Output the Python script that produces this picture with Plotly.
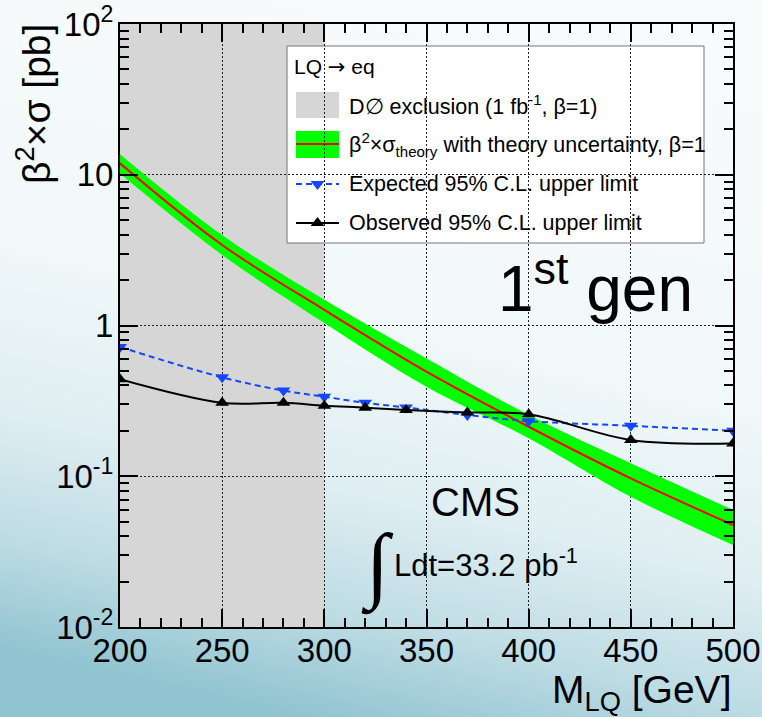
import base64
import plotly.graph_objects as go

# ---------------- data ----------------
mass_limits = [200, 250, 280, 300, 320, 340, 370, 400, 450, 500]
observed = [0.44, 0.307, 0.307, 0.294, 0.285, 0.275, 0.265, 0.258, 0.174, 0.165]
expected = [0.72, 0.453, 0.37, 0.337, 0.307, 0.286, 0.255, 0.232, 0.216, 0.20]

mass_theory = [200, 250, 300, 350, 400, 450, 500]
theory = [11.9, 3.42, 1.27, 0.494, 0.213, 0.0968, 0.0475]
theory_hi = [13.7, 3.98, 1.48, 0.605, 0.255, 0.122, 0.0597]
theory_lo = [10.2, 2.94, 1.04, 0.393, 0.179, 0.0731, 0.035]

d0_exclusion = [200, 300]
x_ticks = [200, 250, 300, 350, 400, 450, 500]
y_ticks = [0.01, 0.1, 1, 10, 100]
y_ticktext = ["10<sup>-2</sup>", "10<sup>-1</sup>", "1", "10", "10<sup>2</sup>"]

legend_header = "LQ <span style='font-family:DejaVu Sans'>\u2192</span> eq"
legend_labels = [
    "D\u2205 exclusion (1 fb<sup>-1</sup>, \u03b2=1)",
    "\u03b2<sup>2</sup>\u00d7\u03c3<sub>theory</sub> with theory uncertainty, \u03b2=1",
    "Expected 95% C.L. upper limit",
    "Observed 95% C.L. upper limit",
]

# ---------------- geometry helpers ----------------
W, H = 762, 717
L, R, T, B = 120, 733, 24, 627


def px(x):
    return (x - L) / (R - L)


def py(y):
    return (B - y) / (B - T)


FONT = "Liberation Sans"
BLUE = "#1446ff"
GREEN = "#00ff00"
RED = "#ff0000"

fig = go.Figure()

# theory band
fig.add_trace(go.Scatter(x=mass_theory, y=theory_lo, mode="lines",
                         line=dict(width=0, shape="spline", color=GREEN),
                         showlegend=False, hoverinfo="skip"))
fig.add_trace(go.Scatter(x=mass_theory, y=theory_hi, mode="lines", fill="tonexty",
                         fillcolor=GREEN, line=dict(width=0, shape="spline", color=GREEN),
                         showlegend=False, hoverinfo="skip"))
fig.add_trace(go.Scatter(x=mass_theory, y=theory, mode="lines",
                         line=dict(width=2, shape="spline", color=RED), showlegend=False))
# expected
fig.add_trace(go.Scatter(x=mass_limits, y=expected, mode="lines+markers",
                         line=dict(width=2, shape="spline", color=BLUE, dash="6px,4px"),
                         marker=dict(symbol="triangle-down", size=12, color=BLUE),
                         showlegend=False))
# observed
fig.add_trace(go.Scatter(x=mass_limits, y=observed, mode="lines+markers",
                         line=dict(width=2, shape="spline", color="black"),
                         marker=dict(symbol="triangle-up", size=12, color="black"),
                         showlegend=False))

# legend marker symbols on an overlay (paper-like) axis pair
row_y = [105, 144, 184, 223]
sym_x0, sym_x1 = 296, 339
sym_xc = (sym_x0 + sym_x1) / 2
fig.add_trace(go.Scatter(x=[px(sym_xc)], y=[py(row_y[2])], mode="markers",
                         marker=dict(symbol="triangle-down", size=12, color=BLUE),
                         xaxis="x2", yaxis="y2", showlegend=False, hoverinfo="skip"))
fig.add_trace(go.Scatter(x=[px(sym_xc)], y=[py(row_y[3])], mode="markers",
                         marker=dict(symbol="triangle-up", size=12, color="black"),
                         xaxis="x2", yaxis="y2", showlegend=False, hoverinfo="skip"))

shapes = []
# D0 exclusion band (below grid)
shapes.append(dict(type="rect", xref="x", yref="paper", x0=d0_exclusion[0], x1=d0_exclusion[1],
                   y0=0, y1=1, fillcolor="#d6d6d6", line=dict(width=0), layer="below"))
# legend box (above grid, below traces)
shapes.append(dict(type="rect", xref="paper", yref="paper", x0=px(287), x1=px(704),
                   y0=py(243), y1=py(46), fillcolor="white", line=dict(color="#777777", width=1),
                   layer="between"))
shapes.append(dict(type="rect", xref="paper", yref="paper", x0=px(sym_x0), x1=px(sym_x1),
                   y0=py(118), y1=py(92), fillcolor="#d6d6d6", line=dict(width=0), layer="between"))
shapes.append(dict(type="rect", xref="paper", yref="paper", x0=px(sym_x0), x1=px(sym_x1),
                   y0=py(158), y1=py(131), fillcolor=GREEN, line=dict(width=0), layer="between"))
shapes.append(dict(type="line", xref="paper", yref="paper", x0=px(sym_x0), x1=px(sym_x1),
                   y0=py(row_y[1]), y1=py(row_y[1]), line=dict(color=RED, width=2), layer="between"))
shapes.append(dict(type="line", xref="paper", yref="paper", x0=px(sym_x0), x1=px(sym_x1),
                   y0=py(row_y[2]), y1=py(row_y[2]), line=dict(color=BLUE, width=2, dash="6px,4px"),
                   layer="between"))
shapes.append(dict(type="line", xref="paper", yref="paper", x0=px(sym_x0), x1=px(sym_x1),
                   y0=py(row_y[3]), y1=py(row_y[3]), line=dict(color="black", width=2), layer="between"))

annotations = []
annotations.append(dict(text=legend_header, x=px(292), y=py(67), xref="paper", yref="paper",
                        xanchor="left", yanchor="middle", showarrow=False,
                        font=dict(family=FONT, size=21, color="black")))
for lab, ry in zip(legend_labels, row_y):
    annotations.append(dict(text=lab, x=px(347), y=py(ry), xref="paper", yref="paper",
                            xanchor="left", yanchor="middle", showarrow=False,
                            font=dict(family=FONT, size=21.5, color="black")))
annotations.append(dict(text="1<sup>st</sup> gen", x=px(496), y=py(284), xref="paper", yref="paper",
                        xanchor="left", yanchor="middle", showarrow=False,
                        font=dict(family=FONT, size=64, color="black")))
annotations.append(dict(text="CMS", x=px(475), y=py(502), xref="paper", yref="paper",
                        xanchor="center", yanchor="middle", showarrow=False,
                        font=dict(family=FONT, size=40, color="black")))
annotations.append(dict(text="\u222b", x=px(377), y=py(566), xref="paper", yref="paper",
                        xanchor="center", yanchor="middle", showarrow=False,
                        font=dict(family="Liberation Serif", size=84, color="black")))
annotations.append(dict(text="Ldt=33.2 pb<sup>-1</sup>", x=px(392), y=py(563), xref="paper", yref="paper",
                        xanchor="left", yanchor="middle", showarrow=False,
                        font=dict(family=FONT, size=31, color="black")))
# axis titles
annotations.append(dict(text="M<sub>LQ</sub> [GeV]", x=1.0, y=py(666), xref="paper", yref="paper",
                        xanchor="right", yanchor="top", showarrow=False,
                        font=dict(family=FONT, size=39, color="black")))
annotations.append(dict(text="\u03b2<sup>2</sup>\u00d7\u03c3 [pb]", x=px(33), y=py(22), xref="paper", yref="paper",
                        xanchor="center", yanchor="top", textangle=-90, showarrow=False,
                        font=dict(family=FONT, size=39, color="black")))

# background gradient (slide)
svg = (
    '<svg xmlns="http://www.w3.org/2000/svg" width="762" height="717" preserveAspectRatio="none">'
    '<defs><linearGradient id="g" x1="0.62" y1="0" x2="0.38" y2="1">'
    '<stop offset="0" stop-color="#f8fbfc"/>'
    '<stop offset="0.45" stop-color="#f1f8f9"/>'
    '<stop offset="0.68" stop-color="#dfeef2"/>'
    '<stop offset="0.85" stop-color="#bedce4"/>'
    '<stop offset="1" stop-color="#8fc3d0"/>'
    '</linearGradient></defs>'
    '<rect width="762" height="717" fill="url(#g)"/></svg>'
)
src = "data:image/svg+xml;base64," + base64.b64encode(svg.encode()).decode()

axis_common = dict(
    showline=True, linecolor="black", linewidth=2, mirror="allticks", automargin=False,
    ticks="inside", tickcolor="black", tickwidth=1.5, ticklen=18,
    showgrid=True, gridcolor="#222222", gridwidth=1, griddash="2px,2px",
    zeroline=False, tickfont=dict(family=FONT, size=33, color="black"),
)

fig.update_layout(
    width=W, height=H,
    margin=dict(l=L, r=W - R, t=T, b=H - B, autoexpand=False),
    paper_bgcolor="white", plot_bgcolor="rgba(0,0,0,0)",
    showlegend=False,
    xaxis=dict(range=[200, 500], tickvals=x_ticks, ticklabelstandoff=-7,
               minor=dict(dtick=10, ticks="inside", ticklen=9, tickcolor="black", tickwidth=1.5,
                          showgrid=False),
               **axis_common),
    yaxis=dict(type="log", range=[-2, 2], tickvals=y_ticks, ticktext=y_ticktext,
               ticklabelstandoff=-2,
               minor=dict(tickvals=[k * 10 ** e for e in range(-2, 2) for k in range(2, 10)],
                          ticks="inside", ticklen=9, tickcolor="black", tickwidth=1.5,
                          showgrid=False),
               **axis_common),
    xaxis2=dict(overlaying="x", range=[0, 1], visible=False, showticklabels=False,
                fixedrange=True, automargin=False),
    yaxis2=dict(overlaying="y", range=[0, 1], visible=False, showticklabels=False,
                fixedrange=True, automargin=False),
    shapes=shapes,
    annotations=annotations,
    images=[dict(source=src, xref="paper", yref="paper", x=px(0), y=py(0),
                 sizex=W / (R - L), sizey=H / (B - T), xanchor="left", yanchor="top",
                 sizing="stretch", layer="below")],
)

fig.write_html("out.html", config={"displayModeBar": False},
               post_script="document.body.style.margin='0';document.body.style.overflow='hidden';")
